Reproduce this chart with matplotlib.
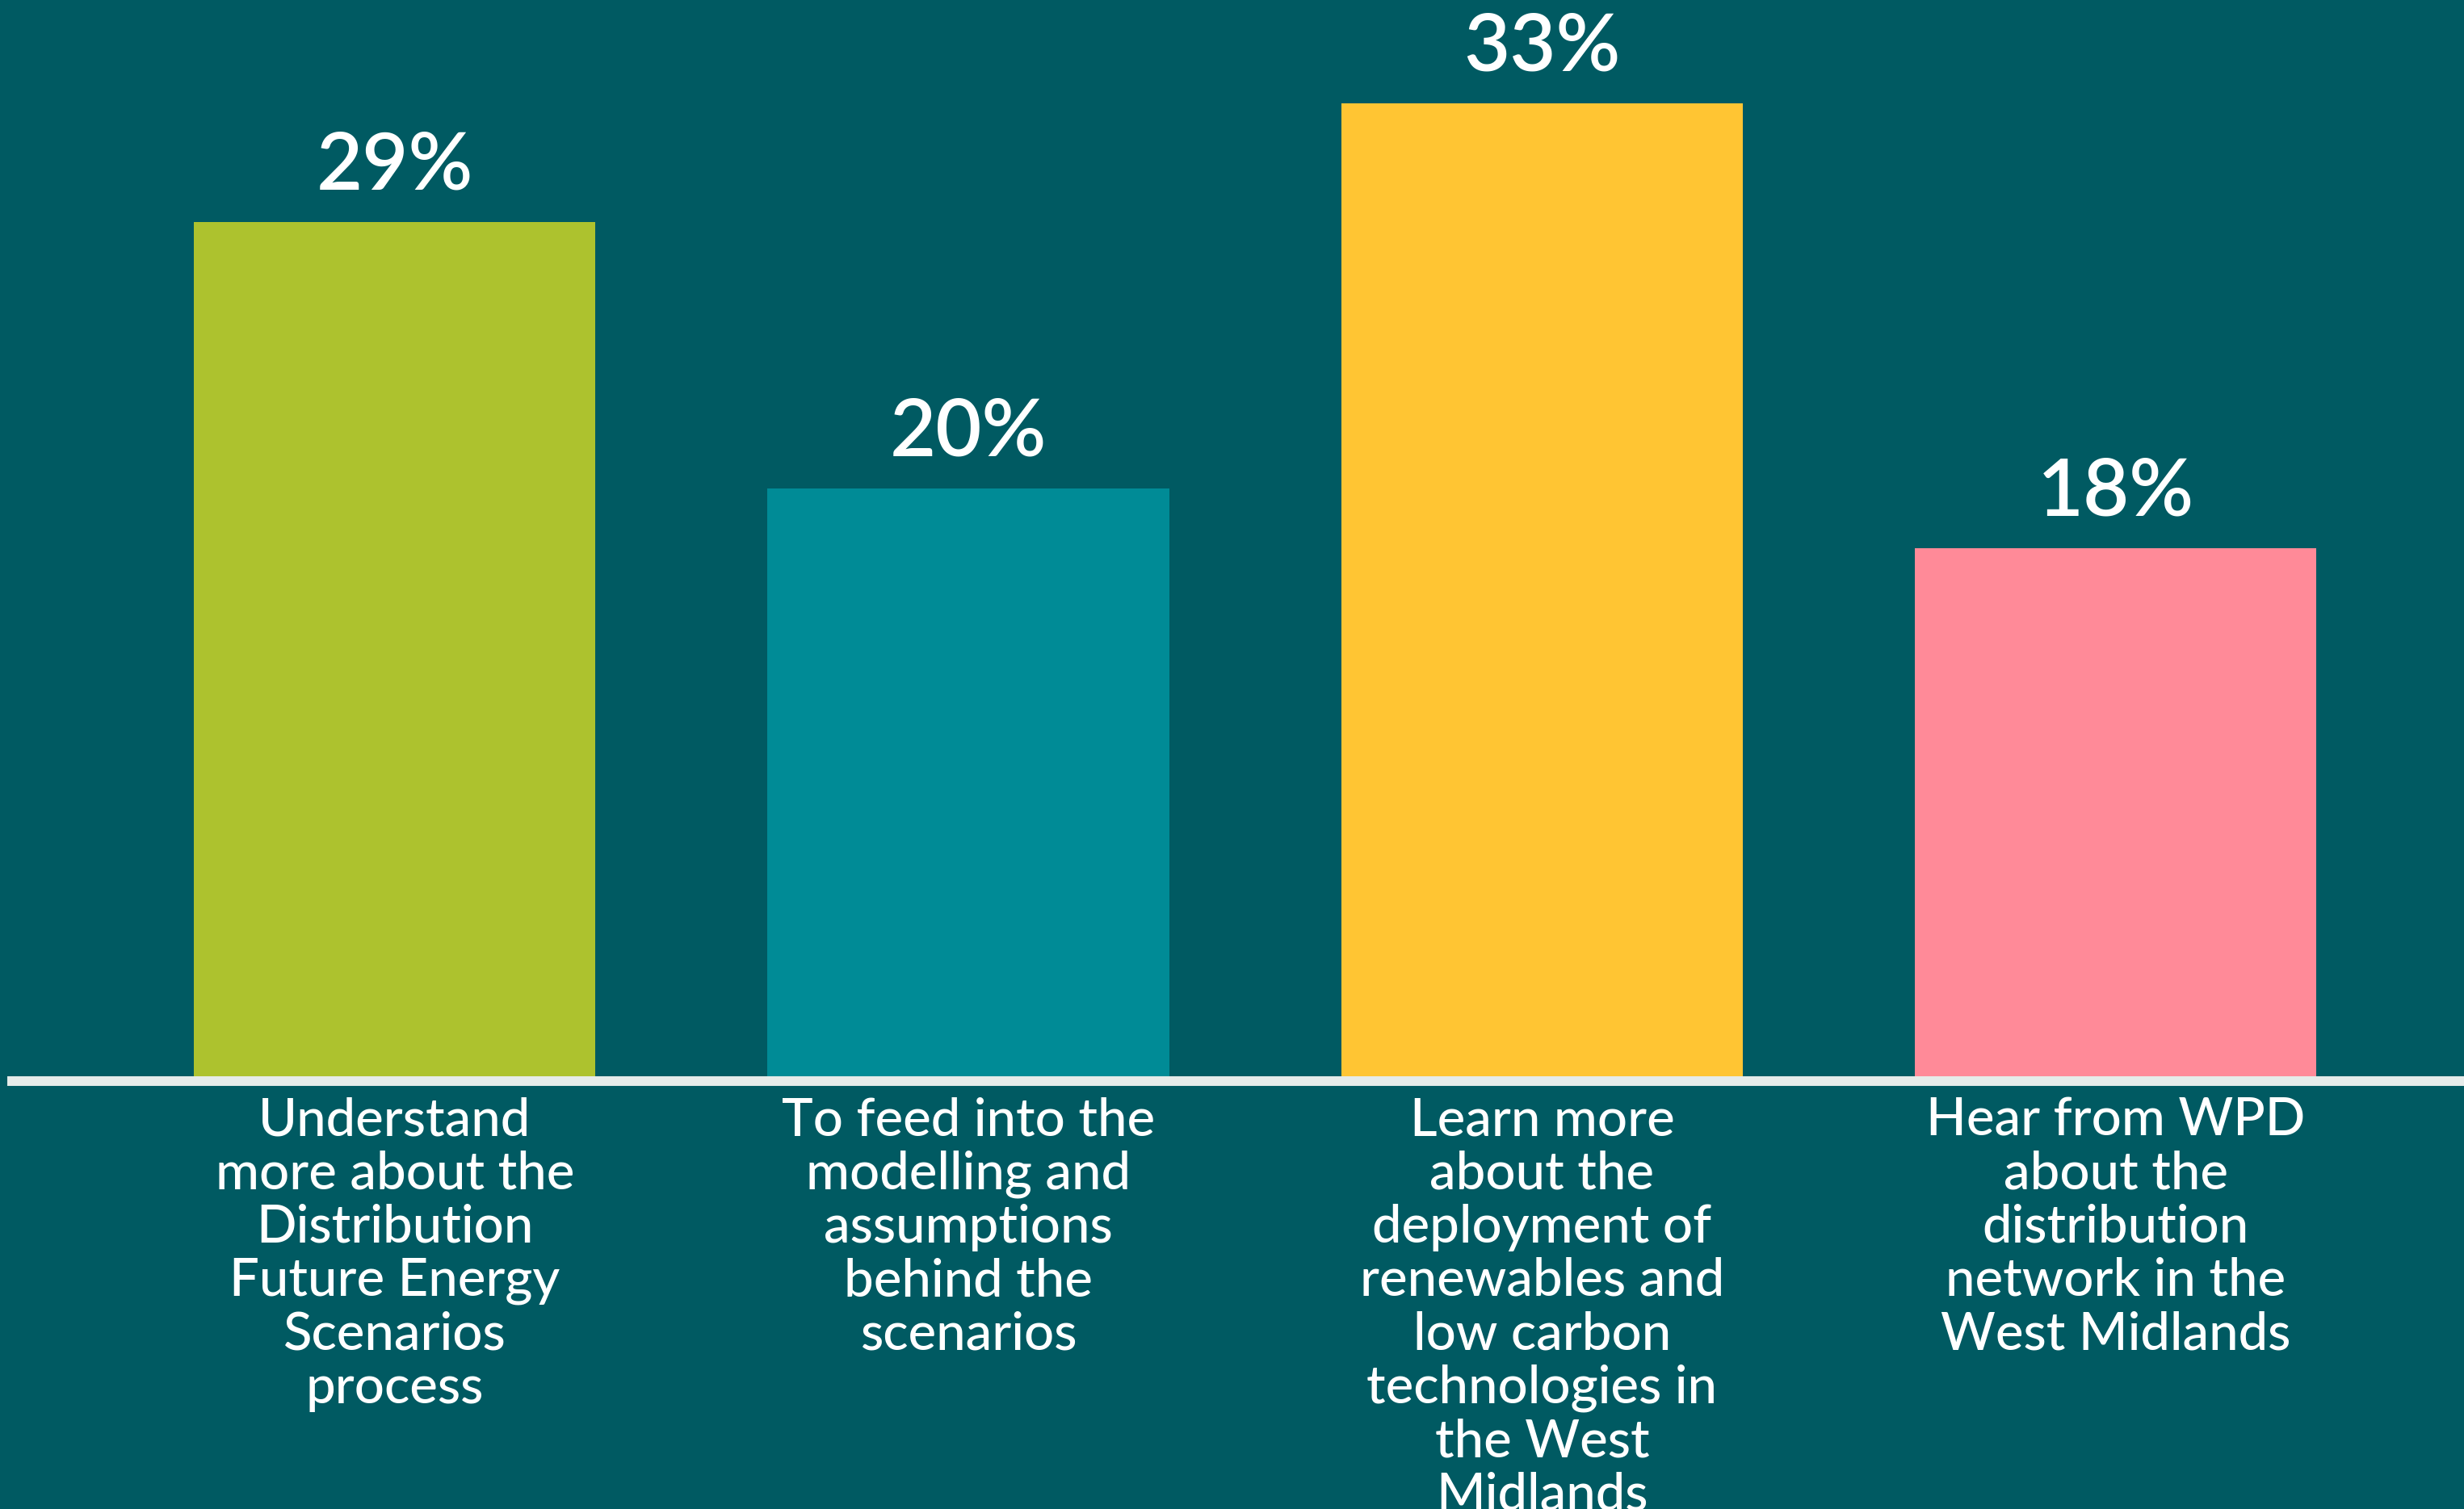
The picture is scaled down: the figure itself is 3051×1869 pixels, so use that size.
import matplotlib

matplotlib.use("Agg")
import matplotlib.pyplot as plt


categories = [
    "Understand\nmore about the\nDistribution\nFuture Energy\nScenarios\nprocess",
    "To feed into the\nmodelling and\nassumptions\nbehind the\nscenarios",
    "Learn more\nabout the\ndeployment of\nrenewables and\nlow carbon\ntechnologies in\nthe West\nMidlands",
    "Hear from WPD\nabout the\ndistribution\nnetwork in the\nWest Midlands",
]
shares = [29, 20, 33, 18]
bar_colors = ["#adc22e", "#008b96", "#ffc533", "#ff8a98"]

BACKGROUND = "#005a62"
TEXT_COLOR = "#ffffff"
BASELINE_COLOR = "#e6ecea"


def main() -> None:
    plt.rcParams["font.family"] = ["Lato", "DejaVu Sans"]

    fig = plt.figure(figsize=(30.51, 18.69), dpi=100, facecolor=BACKGROUND)
    ax = fig.add_axes([0, 0.2836, 1, 0.7164])
    ax.set_facecolor(BACKGROUND)

    positions = list(range(len(shares)))
    bars = ax.bar(positions, shares, width=0.7, color=bar_colors, zorder=2)

    ax.set_xlim(-0.688, 3.607)
    ax.set_ylim(0, 36.5)
    ax.axis("off")

    # baseline across the plot, drawn over the bar bottoms
    ax.axhline(0, xmin=0.005, xmax=1, color=BASELINE_COLOR, lw=8.6,
               zorder=3, clip_on=False)

    for bar, share in zip(bars, shares):
        ax.annotate(
            f"{share}%",
            xy=(bar.get_x() + bar.get_width() / 2, bar.get_height()),
            xytext=(0, 17),
            textcoords="offset points",
            ha="center",
            va="bottom",
            fontsize=71,
            fontweight="semibold",
            color=TEXT_COLOR,
        )

    for pos, label in zip(positions, categories):
        ax.annotate(
            label,
            xy=(pos, 0),
            xytext=(0, -14),
            textcoords="offset points",
            ha="center",
            va="top",
            fontsize=47,
            fontweight="medium",
            linespacing=1.15,
            color=TEXT_COLOR,
            annotation_clip=False,
        )

    fig.savefig("out.png", dpi=100, facecolor=BACKGROUND)
    plt.close(fig)


if __name__ == "__main__":
    main()
